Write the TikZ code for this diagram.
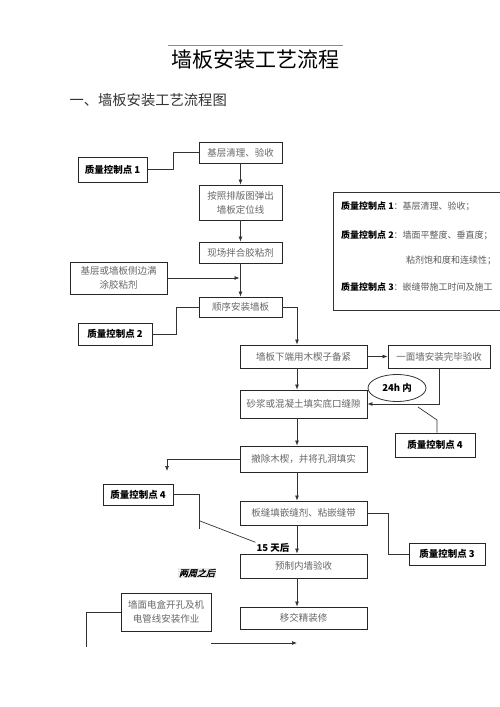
\documentclass[tikz,border=0pt]{standalone}
\usepackage{fontspec}
\usetikzlibrary{arrows.meta,shapes.geometric,calc}
\newfontfamily\cjk{Noto Sans CJK SC}
\newfontfamily\cjksl[FakeSlant=0.25,FakeBold=2]{Noto Sans CJK SC}

\tikzset{
    flowbox/.style={draw=black!85, line width=0.9pt, text=black!60, font=\cjk\fontsize{9.5}{14}\selectfont, align=center, inner sep=1pt},
    qcbox/.style={flowbox, text=black, font=\cjk\bfseries\fontsize{9.5}{12}\selectfont},
    link/.style={draw=black!80, line width=0.7pt},
    arr/.style={link, -{Latex[length=5pt,width=4pt]}}
}

\begin{document}
\begin{tikzpicture}[x=1pt, y=-1pt]
        \useasboundingbox (0,0) rectangle (500,707);
        \clip (0,0) rectangle (500,707);

        % Title
        \draw [black!45, line width=0.5pt] (168,45) -- (343,45);
        \node (title) at (255.5,60) {\cjk\fontsize{21}{21}\selectfont 墙板安装工艺流程};
        \node [anchor=west] (subtitle) at (66,100) {\cjk\fontsize{14.3}{14}\selectfont\color{black!80} 一、墙板安装工艺流程图};

        % Upper column
        \coordinate (spine) at (297,0);
        \node [flowbox, minimum width=83, minimum height=21] (b1) at (240.5,152.5) {基层清理、验收};
        \node [flowbox, minimum width=83, minimum height=35] (b2) at (240.5,202.5) {按照排版图弹出\\墙板定位线};
        \node [flowbox, minimum width=83, minimum height=21] (b3) at (240.5,252.5) {现场拌合胶粘剂};
        \node [flowbox, minimum width=83, minimum height=20] (b4) at (240.5,307) {顺序安装墙板};
        \node [flowbox, minimum width=97, minimum height=32] (side) at (118.5,278) {基层或墙板侧边满\\涂胶粘剂};
        \node [qcbox, minimum width=69, minimum height=25] (qc1) at (112.5,169.5) {质量控制点 1};
        \node [qcbox, minimum width=74, minimum height=22] (qc2) at (115,334) {质量控制点 2};

        \draw [arr] (b1) -- (b2);
        \draw [arr] (b2) -- (b3);
        \draw [arr] (b3) -- (b4);
        \draw [arr] (side.east) -- ($(side.east -| b3.south) + (-1,0)$);
        \coordinate (k1) at (173,152.5);
        \draw [link] (qc1.east) -| (k1) -- (b1.west);
        \coordinate (k2) at (176,307);
        \draw [link] (qc2.east) -| (k2) -- (b4.west);

        % Main column
        \node [flowbox, minimum width=127, minimum height=23] (m1) at (303.5,356.5) {墙板下端用木楔子备紧};
        \node [flowbox, minimum width=102, minimum height=23] (wall) at (439,356.5) {一面墙安装完毕验收};
        \node [flowbox, minimum width=127, minimum height=28] (m2) at (303.5,404) {砂浆或混凝土填实底口缝隙};
        \node [flowbox, minimum width=127, minimum height=26] (m3) at (303.5,459) {撤除木楔，并将孔洞填实};
        \node [flowbox, minimum width=127, minimum height=24] (m4) at (303.5,513) {板缝填嵌缝剂、粘嵌缝带};
        \node [flowbox, minimum width=127, minimum height=24] (m5) at (303.5,566) {预制内墙验收};
        \node [flowbox, minimum width=127, minimum height=22] (m6) at (303.5,618) {移交精装修};

        \draw [arr] (b4.east) -| (m1.north -| spine);
        \draw [arr] (m1.south -| spine) -- (m2.north -| spine);
        \draw [arr] (m2.south -| spine) -- (m3.north -| spine);
        \draw [arr] (m3.south -| spine) -- (m4.north -| spine);
        \draw [arr] (m4.south -| spine) -- (m5.north -| spine);
        \draw [arr] (m5.south -| spine) -- (m6.north -| spine);
        \draw [arr] (m1.east) -- (wall.west);
        \draw [arr] (wall.south) |- (m2.east);

        % 24h loop and quality points
        \node [draw=black!80, line width=0.8pt, ellipse, minimum width=58, minimum height=27, inner sep=0pt, font=\cjk\bfseries\fontsize{9.5}{12}\selectfont] (h24) at (397,388) {24h 内};
        \node [qcbox, minimum width=80, minimum height=24] (qc4r) at (435,445) {质量控制点 4};
        \coordinate (k3) at (418,407);
        \coordinate (k4) at (437,420);
        \draw [link] (k3) -- (k4) -- (k4 |- qc4r.north);

        \coordinate (k5) at (167,471);
        \draw [arr] (m3.west) -| (k5);

        \node [qcbox, minimum width=70, minimum height=21] (qc4l) at (138,494.5) {质量控制点 4};
        \node [font=\cjk\bfseries\fontsize{9.5}{12}\selectfont, inner sep=1pt] (t15) at (273,548) {15 天后};
        \coordinate (k6) at (199,529);
        \coordinate (k7) at (200,521);
        \draw [link] (qc4l.east) -| (k6);
        \draw [link] (k7) -- (t15.north west);

        \node [qcbox, minimum width=76, minimum height=22] (qc3) at (447,554) {质量控制点 3};
        \coordinate (k8) at (388,554);
        \draw [link] (m4.east) -| (k8) -- (qc3.west);

        % Bottom
        \node [fill=black!8, inner sep=1pt, font=\cjksl\fontsize{9}{12}\selectfont] (twoweeks) at (197,573) {两周之后};
        \node [flowbox, minimum width=90, minimum height=38] (elec) at (166,612) {墙面电盒开孔及机\\电管线安装作业};
        \coordinate (k9) at (86,647);
        \draw [link] (elec.west) -| (k9);
        \coordinate (k10) at (211,643);
        \draw [arr] (k10) -- (k10 -| spine);

        % Notes
        \draw [draw=black!80, line width=0.8pt] (333,192) rectangle (520,310);
        \node [anchor=west, font=\cjk\fontsize{9}{12}\selectfont, text=black!65, inner sep=0pt] (n1) at (341,206) {\textcolor{black}{\bfseries 质量控制点 1}：基层清理、验收；};
        \node [anchor=west, font=\cjk\fontsize{9}{12}\selectfont, text=black!65, inner sep=0pt] (n2) at (341,235) {\textcolor{black}{\bfseries 质量控制点 2}：墙面平整度、垂直度；};
        \node [anchor=west, font=\cjk\fontsize{9}{12}\selectfont, text=black!65, inner sep=0pt] (n3) at (406,260) {粘剂饱和度和连续性；};
        \node [anchor=west, font=\cjk\fontsize{9}{12}\selectfont, text=black!65, inner sep=0pt] (n4) at (341,287) {\textcolor{black}{\bfseries 质量控制点 3}：嵌缝带施工时间及施工};

    \end{tikzpicture}
\end{document}
